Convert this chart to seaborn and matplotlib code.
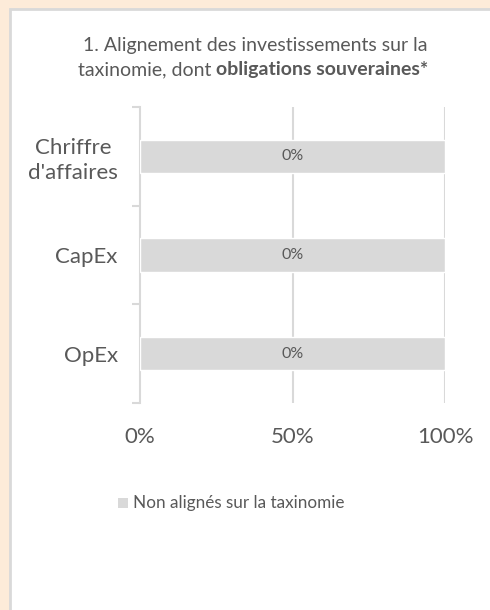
import pandas as pd
import seaborn as sns
import matplotlib.pyplot as plt
from matplotlib.patches import Rectangle

# Données
categories = ["Chriffre\nd'affaires", "CapEx", "OpEx"]
alignes = [0, 0, 0]
non_alignes = [100, 100, 100]
serie_label = "Non alignés sur la taxinomie"
xticks = [0, 50, 100]

df = pd.DataFrame({"categorie": categories, "valeur": non_alignes})

sns.set_theme(style="white")
plt.rcParams['font.family'] = ['Lato', 'DejaVu Sans']

txt = "#595959"
gris = "#D9D9D9"

fig = plt.figure(figsize=(4.9, 6.1), dpi=100)
fig.patch.set_facecolor("#FDEBD9")
# cadre blanc
fig.patches.append(Rectangle((10 / 490, -0.01), 1.0, 1 - 9 / 610 + 0.01, transform=fig.transFigure,
                             facecolor="white", edgecolor=gris, linewidth=2, zorder=-5))

ax = fig.add_axes([140 / 490, 1 - 403 / 610, 305 / 490, 296 / 610])
ax.set_zorder(2)
ax.set_facecolor("none")
sns.barplot(data=df, x="valeur", y="categorie", orient="h", color=gris, width=0.34,
            saturation=1, ax=ax, zorder=3)

# étiquettes de données
for i, (a, v) in enumerate(zip(alignes, non_alignes)):
    ax.text(v / 2, i, f"{a}%", ha="center", va="center", fontsize=11.5, color=txt, zorder=4)

ax.set_xlim(0, 100)
ax.set_ylim(2.5, -0.5)
ax.set_xticks(xticks)
ax.set_xticklabels([f"{t}%" for t in xticks], fontsize=16, color=txt)
ax.tick_params(axis="x", length=0, pad=17)
for t in xticks[1:]:
    ax.axvline(t, color=gris, lw=1.5, zorder=1)

ax.set_yticks(range(len(categories)))
ax.set_yticklabels(categories, fontsize=16, color=txt, linespacing=1.3, multialignment="center")
ax.tick_params(axis="y", which="major", left=False, length=0, pad=16)
ax.set_yticks([-0.5, 0.5, 1.5, 2.5], minor=True)
ax.tick_params(axis="y", which="minor", left=True, length=6, width=1.5, color=gris)

for s in ["top", "right", "bottom"]:
    ax.spines[s].set_visible(False)
ax.spines["left"].set_color(gris)
ax.spines["left"].set_linewidth(1.5)
ax.set_xlabel("")
ax.set_ylabel("")

# titre (partie en gras)
fig.canvas.draw()
r = fig.canvas.get_renderer()
fig.text(255 / 490, 1 - 45 / 610, "1. Alignement des investissements sur la",
         ha="center", va="center", fontsize=14, color=txt)
t1 = fig.text(0, 0, "taxinomie, dont ", fontsize=14, color=txt)
t2 = fig.text(0, 0, "obligations souveraines*", fontsize=14, color=txt, fontweight="bold")
w1 = t1.get_window_extent(r).width / fig.bbox.width
w2 = t2.get_window_extent(r).width / fig.bbox.width
x0 = 253 / 490 - (w1 + w2) / 2
y2 = 1 - 70 / 610
t1.set_position((x0, y2)); t1.set_va("center")
t2.set_position((x0 + w1, y2)); t2.set_va("center")

# légende
fig.patches.append(Rectangle((118 / 490, 1 - 508 / 610), 10 / 490, 10 / 610, transform=fig.transFigure,
                             facecolor=gris, edgecolor="none"))
fig.text(133 / 490, 1 - 503 / 610, serie_label, ha="left", va="center", fontsize=12.3, color=txt)

plt.savefig("out.png", dpi=100, facecolor=fig.get_facecolor())
